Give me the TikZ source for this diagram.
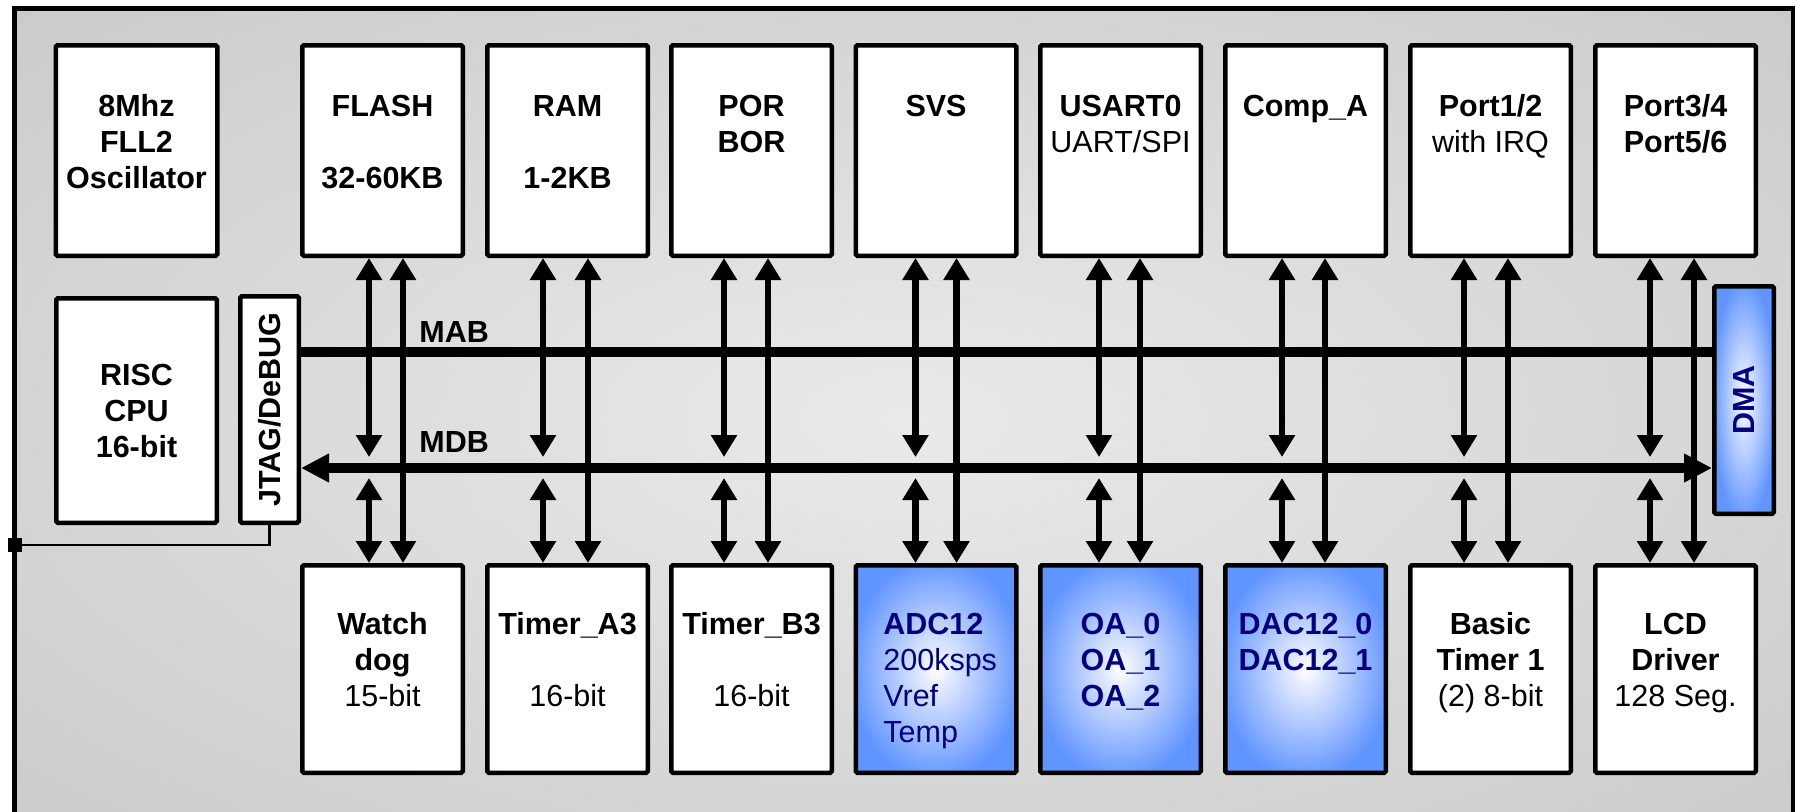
\documentclass[tikz,border=0pt]{standalone}
\usepackage{fontspec}
\setmainfont{Liberation Sans}
\usetikzlibrary{arrows.meta,calc}
\definecolor{bglight}{RGB}{234,234,234}
\definecolor{bgdark}{RGB}{190,190,190}
\definecolor{boxblue}{RGB}{96,148,255}
\definecolor{bluelight}{RGB}{225,233,255}
\definecolor{navyt}{RGB}{0,0,128}
\pgfdeclareradialshading{bgshade}{\pgfpoint{0bp}{0bp}}{color(0bp)=(bglight); color(50bp)=(bgdark)}
\pgfdeclareradialshading{blueshade}{\pgfpoint{0bp}{0bp}}{color(0bp)=(white); color(5bp)=(bluelight); color(27bp)=(boxblue); color(50bp)=(boxblue)}
\newcommand\fsz{\fontsize{15.25pt}{18pt}\selectfont}
\begin{document}
\begin{tikzpicture}[x=0.5pt,y=-0.5pt,
  boxbase/.style={draw, line width=2.25pt, rounded corners=0.8pt, inner sep=0pt,
    minimum width=80.25pt, minimum height=105.25pt},
  box/.style={boxbase, fill=white},
  bbox/.style={box, minimum height=103.75pt},
  bluebox/.style={boxbase, minimum height=103.75pt, shading=blueshade},
  txt/.style={font=\fsz, align=center, inner sep=0pt, anchor=north},
  btxt/.style={txt, text=navyt},
  bus/.style={line width=4.75pt},
  busarr/.style={line width=4.75pt, arrows={Triangle[width=13.5pt,length=14pt]-Triangle[width=13.5pt,length=14pt]}},
  varr/.style={line width=3.35pt, arrows={Triangle[width=12.5pt,length=11pt]-Triangle[width=12.5pt,length=11pt]}},
  sqr/.style={fill=black, inner sep=0pt, minimum size=7pt}
]
\useasboundingbox (0,0) rectangle (1797,811);
\fill[white] (0,0) rectangle (1797,811);
% frame
\path[shading=bgshade] (14.5,8.5) rectangle (1793,830);
\draw[line width=2.25pt] (14.5,830) -- (14.5,8.5) -- (1793,8.5) -- (1793,830);

% left column
\node[boxbase, fill=white, minimum width=80.75pt] (osc) at (136.5,150.5) {};
\node[txt] (oscT) at (136.5,90.8) {\strut\textbf{8Mhz}\\\textbf{FLL2}\\\textbf{Oscillator}};
\node[boxbase, fill=white, minimum height=112.25pt] (cpu) at (136.5,410.5) {};
\node[txt] (cpuT) at (136.5,359.8) {\strut\textbf{RISC}\\\textbf{CPU}\\\textbf{16-bit}};
\node[boxbase, fill=white, minimum width=29.25pt, minimum height=113.25pt] (jtag) at (269.5,409.5) {};
\node[font=\fsz\bfseries, rotate=90, inner sep=0pt] (jtagT) at (jtag.center) {JTAG/DeBUG};
\node[boxbase, shading=blueshade, minimum width=29.75pt, minimum height=113.75pt] (dma) at (1744,400) {};
\node[font=\fsz\bfseries, text=navyt, rotate=90, inner sep=0pt] (dmaT) at (dma.center) {DMA};

% top row
\node[box] (flash) at (382.5,150.5) {};
\node[box] (ram)   at (567.5,150.5) {};
\node[box] (por)   at (751.5,150.5) {};
\node[box] (svs)   at (936,150.5) {};
\node[box] (usart) at (1120.5,150.5) {};
\node[box] (comp)  at (1305.5,150.5) {};
\node[box] (porta) at (1490.5,150.5) {};
\node[box] (portb) at (1675.5,150.5) {};
\node[txt] (flashT) at (382.5,90.8) {\strut\textbf{FLASH}\\[18pt]\textbf{32-60KB}};
\node[txt] (ramT)   at (567.5,90.8) {\strut\textbf{RAM}\\[18pt]\textbf{1-2KB}};
\node[txt] (porT)   at (751.5,90.8) {\strut\textbf{POR}\\\textbf{BOR}};
\node[txt] (svsT)   at (936,90.8) {\strut\textbf{SVS}};
\node[txt] (usartT) at (1120.5,90.8) {\strut\textbf{USART0}\\UART/SPI};
\node[txt] (compT)  at (1305.5,90.8) {\strut\textbf{Comp\_A}};
\node[txt] (portaT) at (1490.5,90.8) {\strut\textbf{Port1/2}\\with IRQ};
\node[txt] (portbT) at (1675.5,90.8) {\strut\textbf{Port3/4}\\\textbf{Port5/6}};

% bottom row
\node[bbox] (wdog) at (382.5,669) {};
\node[bbox] (tima) at (567.5,669) {};
\node[bbox] (timb) at (751.5,669) {};
\node[bluebox] (adc) at (936,669) {};
\node[bluebox] (oa)  at (1120.5,669) {};
\node[bluebox] (dac) at (1305.5,669) {};
\node[bbox] (btim) at (1490.5,669) {};
\node[bbox] (lcd)  at (1675.5,669) {};
\node[txt] (wdogT) at (382.5,608.8) {\strut\textbf{Watch}\\\textbf{dog}\\15-bit};
\node[txt] (timaT) at (567.5,608.8) {\strut\textbf{Timer\_A3}\\[18pt]16-bit};
\node[txt] (timbT) at (751.5,608.8) {\strut\textbf{Timer\_B3}\\[18pt]16-bit};
\node[btxt, align=left, anchor=north west] (adcT) at (883,608.8) {\strut\textbf{ADC12}\\200ksps\\Vref\\Temp};
\node[btxt] (oaT)  at (1120.5,608.8) {\strut\textbf{OA\_0}\\\textbf{OA\_1}\\\textbf{OA\_2}};
\node[btxt] (dacT) at (1305.5,608.8) {\strut\textbf{DAC12\_0}\\\textbf{DAC12\_1}};
\node[txt] (btimT) at (1490.5,608.8) {\strut\textbf{Basic}\\\textbf{Timer 1}\\(2) 8-bit};
\node[txt] (lcdT)  at (1675.5,608.8) {\strut\textbf{LCD}\\\textbf{Driver}\\128 Seg.};

% buses
\coordinate (mab) at (0,352);
\coordinate (mdb) at (0,468);
\coordinate (mdbU) at (0,457);
\coordinate (mdbD) at (0,478);
\draw[bus] (jtag.east |- mab) -- (dma.west |- mab);
\draw[busarr] (jtag.east |- mdb) -- (dma.west |- mdb);
\node[font=\fsz\bfseries, inner sep=0pt, anchor=base west] (mabL) at (419,342) {MAB};
\node[font=\fsz\bfseries, inner sep=0pt, anchor=base west] (mdbL) at (419,452) {MDB};

% vertical connections
\foreach \t/\b/\a/\c in {flash/wdog/69/103, ram/tima/58/103, por/timb/55/99, svs/adc/62/103,
  usart/oa/61/102, comp/dac/59/102, porta/btim/56/100, portb/lcd/57/101}{
  \coordinate (p1) at ($(\t.south west)+(\a,0)$);
  \coordinate (p2) at ($(\t.south west)+(\c,0)$);
  \draw[varr] (p1) -- (p1 |- mdbU);
  \draw[varr] (p1 |- mdbD) -- (p1 |- \b.north);
  \draw[varr] (p2) -- (p2 |- \b.north);
}

% JTAG link to frame
\node[sqr] (sq) at (14.5,545) {};
\draw[line width=1.2pt] (jtag.south) |- (sq.center);
\end{tikzpicture}
\end{document}
